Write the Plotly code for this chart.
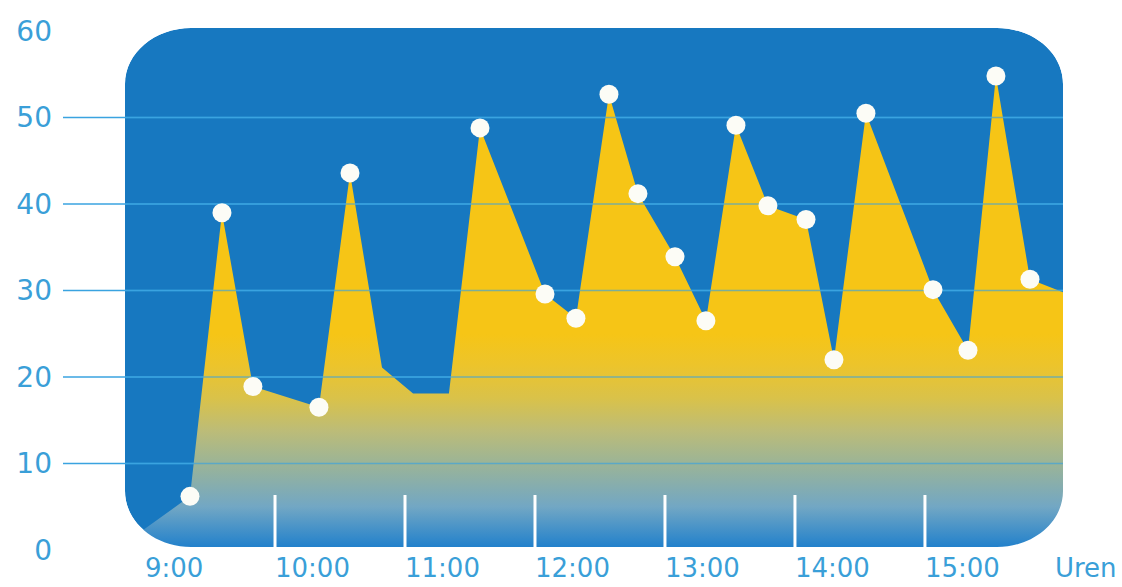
import plotly.graph_objects as go

# Hourly readings (decimal hours) and the measured values
hours = [8.846, 9.346, 9.592, 9.83, 10.338, 10.577, 10.823, 11.062, 11.338,
         11.577, 12.077, 12.315, 12.569, 12.792, 13.077, 13.315, 13.546,
         13.792, 14.085, 14.3, 14.546, 15.062, 15.331, 15.546, 15.808, 16.062]
values = [0.8, 6.2, 39.0, 18.9, 16.5, 43.6, 21.1, 18.1, 18.1,
          48.8, 29.6, 26.8, 52.7, 41.2, 33.9, 26.5, 49.1,
          39.8, 38.2, 22.0, 50.5, 30.1, 23.1, 54.8, 31.3, 29.8]
# which readings get a white dot
marked = [False, True, True, True, True, True, False, False, False,
          True, True, True, True, True, True, True, True,
          True, True, True, True, True, True, True, True, False]

x_ticks = [9, 10, 11, 12, 13, 14, 15, 16]
x_labels = ["9:00", "10:00", "11:00", "12:00", "13:00", "14:00", "15:00", "Uren"]
divider_hours = [10, 11, 12, 13, 14, 15]
y_ticks = [0, 10, 20, 30, 40, 50, 60]
grid_values = [10, 20, 30, 40, 50]

X_RANGE = [8.846, 16.062]
Y_RANGE = [0, 60.35]

PANEL_BLUE = "#1778c0"
GRID_BLUE = "#3aa3e0"
LABEL_BLUE = "#3a9fd8"

W, H = 938, 522          # plot area in px
yb = 3 / H               # panel bottom sits slightly above the axis floor
rx, ry = 66 / W, 56 / H
k = 0.5523

fig = go.Figure()

# gradient-filled area
fig.add_trace(go.Scatter(
    x=hours, y=values, mode="lines", line=dict(width=0, color="#f6c516"),
    fill="tozeroy",
    fillgradient=dict(
        type="vertical", start=0, stop=25,
        colorscale=[[0.0, "#1c7ecc"], [0.2, "#72a7c4"], [0.4, "#9bb497"],
                    [0.55, "#bcbc78"], [0.7, "#d9c24a"], [0.85, "#ecc42c"],
                    [1.0, "#f6c516"]]),
    hoverinfo="skip", showlegend=False))

# grid lines showing through the filled area
gx, gy = [], []
for g in grid_values:
    gx += [X_RANGE[0], X_RANGE[1], None]
    gy += [g, g, None]
fig.add_trace(go.Scatter(
    x=gx, y=gy, mode="lines", line=dict(width=1.6, color=GRID_BLUE),
    opacity=0.65, hoverinfo="skip", showlegend=False))

# white dots
fig.add_trace(go.Scatter(
    x=[h for h, m in zip(hours, marked) if m],
    y=[v for v, m in zip(values, marked) if m],
    mode="markers",
    marker=dict(size=19, color="#fcfcf6", line=dict(width=0)),
    showlegend=False))

shapes = []
# rounded blue panel
b = yb
panel = (f"M {rx},{b} L {1-rx},{b} C {1-rx+k*rx},{b} 1,{b+ry-k*ry} 1,{b+ry} "
         f"L 1,{1-ry} C 1,{1-ry+k*ry} {1-rx+k*rx},1 {1-rx},1 "
         f"L {rx},1 C {rx-k*rx},1 0,{1-ry+k*ry} 0,{1-ry} "
         f"L 0,{b+ry} C 0,{b+ry-k*ry} {rx-k*rx},{b} {rx},{b} Z")
shapes.append(dict(type="path", xref="paper", yref="paper", path=panel,
                   fillcolor=PANEL_BLUE, line=dict(width=0), layer="below"))
# grid lines (extend to the left of the panel)
for g in grid_values:
    shapes.append(dict(type="line", xref="paper", yref="y", x0=-62 / W, x1=1,
                       y0=g, y1=g, line=dict(color=GRID_BLUE, width=1.6),
                       layer="below"))
# white hour dividers
for d in divider_hours:
    shapes.append(dict(type="line", xref="x", yref="paper", x0=d, x1=d,
                       y0=b, y1=b + 52 / H, line=dict(color="white", width=3),
                       layer="above"))
# white masks that round off the filled area and trim it at the panel floor
e = 0.004
corners = [
    f"M {-e},{-e} L {1+e},{-e} L {1+e},{b} L {-e},{b} Z",
    f"M {-e},{b} L {rx},{b} C {rx-k*rx},{b} 0,{b+ry-k*ry} 0,{b+ry} L {-e},{b+ry} Z",
    f"M {1+e},{b} L {1-rx},{b} C {1-rx+k*rx},{b} 1,{b+ry-k*ry} 1,{b+ry} L {1+e},{b+ry} Z",
    f"M {-e},{1+e} L {rx},{1+e} L {rx},1 C {rx-k*rx},1 0,{1-ry+k*ry} 0,{1-ry} L {-e},{1-ry} Z",
    f"M {1+e},{1+e} L {1-rx},{1+e} L {1-rx},1 C {1-rx+k*rx},1 1,{1-ry+k*ry} 1,{1-ry} L {1+e},{1-ry} Z",
]
for c in corners:
    shapes.append(dict(type="path", xref="paper", yref="paper", path=c,
                       fillcolor="white", line=dict(width=0), layer="above"))

x_font = dict(family="DejaVu Sans", size=26, color=LABEL_BLUE)
y_font = dict(family="DejaVu Sans", size=28, color=LABEL_BLUE)

fig.update_layout(
    width=1122, height=587,
    margin=dict(l=125, r=59, t=28, b=37, autoexpand=False),
    paper_bgcolor="white", plot_bgcolor="rgba(0,0,0,0)",
    shapes=shapes,
    xaxis=dict(range=X_RANGE, showgrid=False, zeroline=False, showline=False,
               automargin=False,
               tickmode="array", tickvals=x_ticks, ticktext=x_labels,
               ticks="", ticklabelposition="outside right",
               ticklabelstandoff=0, tickfont=x_font, fixedrange=True),
    yaxis=dict(range=Y_RANGE, showgrid=False, zeroline=False, showline=False,
               automargin=False,
               tickmode="array", tickvals=y_ticks, ticks="",
               ticklabelstandoff=72, tickfont=y_font, fixedrange=True),
    showlegend=False,
)

fig.write_html("out.html")
